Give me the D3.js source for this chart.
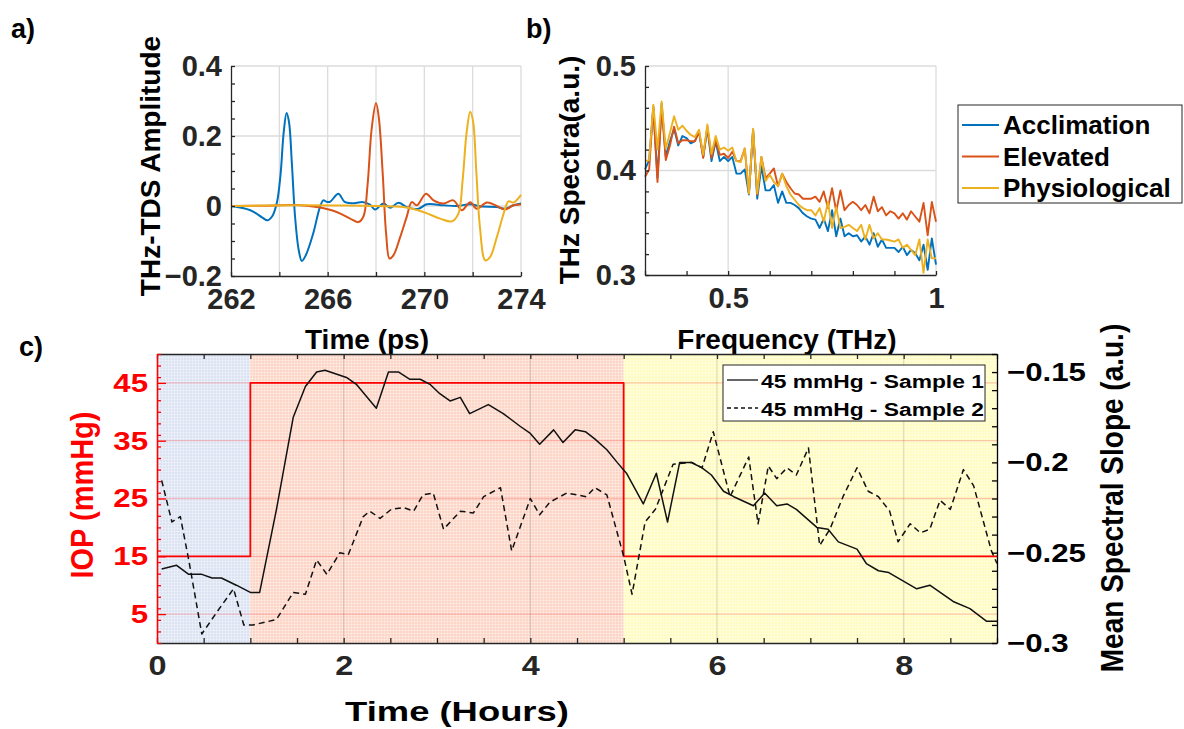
<!DOCTYPE html>
<html>
<head>
<meta charset="utf-8">
<script src="https://cdn.jsdelivr.net/npm/d3@7"></script>
<style>
  body { margin: 0; background: #fff; }
  svg text { font-family: "Liberation Sans", Arial, sans-serif; font-weight: bold; }
</style>
</head>
<body>
<div id="chart"></div>
<script>
'use strict';

// ---------- panel a : THz-TDS pulses ----------
const accTime = [262, 262.8, 263.3, 263.5, 263.7, 263.9, 264.05, 264.18, 264.30, 264.40, 264.52, 264.65, 264.80, 264.93, 265.10, 265.40, 265.68, 265.82, 265.95, 266.10, 266.44, 266.70, 267.0, 267.48, 267.75, 267.96, 268.31, 268.58, 268.93, 269.3, 269.76, 270.10, 270.79, 271.34, 271.90, 272.31, 273.00, 273.34, 273.69, 274];
const accAmp  = [0, -0.012, -0.033, -0.041, -0.030, 0.010, 0.090, 0.210, 0.266, 0.240, 0.120, -0.030, -0.125, -0.157, -0.140, -0.079, -0.003, 0.016, 0.012, 0.012, 0.035, 0.012, 0.008, 0.011, 0.004, -0.010, 0.007, -0.005, 0.009, -0.004, -0.008, 0.005, 0.002, 0, 0.005, -0.001, -0.003, -0.008, 0.002, 0.007];
const eleTime = [262, 263.5, 264.72, 265.55, 266.37, 266.93, 267.27, 267.48, 267.65, 267.82, 268.0, 268.12, 268.28, 268.42, 268.56, 268.72, 269.0, 269.27, 269.48, 269.69, 270.07, 270.38, 270.79, 271.2, 271.55, 271.9, 272.17, 272.59, 273.0, 273.34, 273.69, 274];
const eleAmp  = [0, 0.001, 0.003, -0.003, -0.017, -0.036, -0.046, -0.030, 0.060, 0.220, 0.294, 0.250, 0.090, -0.080, -0.150, -0.141, -0.089, -0.031, 0.011, 0.002, 0.035, 0.016, 0.007, 0.016, -0.012, 0.011, -0.008, 0.010, 0, -0.010, 0.002, 0.004];
const phyTime = [262, 265, 268.03, 269.13, 269.96, 270.65, 271.14, 271.41, 271.58, 271.75, 271.9, 272.02, 272.15, 272.3, 272.52, 272.72, 273.0, 273.28, 273.48, 273.69, 274];
const phyAmp  = [0, 0.002, 0, -0.003, -0.017, -0.036, -0.044, -0.022, 0.070, 0.210, 0.269, 0.240, 0.100, -0.060, -0.155, -0.146, -0.089, -0.022, 0.013, 0.010, 0.032];

const aXTicks = [262, 264, 266, 268, 270, 272, 274];
const aXLabels = ['262', '', '266', '', '270', '', '274'];
const aYTicks = [-0.2, -0.15, -0.1, -0.05, 0, 0.05, 0.1, 0.15, 0.2, 0.25, 0.3, 0.35, 0.4];
const aYLabels = ['\u22120.2', '', '', '', '0', '', '', '', '0.2', '', '', '', '0.4'];

// ---------- panel b : THz spectra ----------
const freq = [0.30, 0.31, 0.32, 0.33, 0.34, 0.35, 0.36, 0.37, 0.38, 0.39, 0.40, 0.41, 0.42, 0.43, 0.44, 0.45, 0.46, 0.47, 0.48, 0.49,
              0.50, 0.51, 0.52, 0.53, 0.54, 0.55, 0.56, 0.57, 0.58, 0.59, 0.60, 0.61, 0.62, 0.63, 0.64, 0.65, 0.66, 0.67, 0.68, 0.69,
              0.70, 0.71, 0.72, 0.73, 0.74, 0.75, 0.76, 0.77, 0.78, 0.79, 0.80, 0.81, 0.82, 0.83, 0.84, 0.85, 0.86, 0.87, 0.88, 0.89,
              0.90, 0.91, 0.92, 0.93, 0.94, 0.95, 0.96, 0.97, 0.98, 0.99, 1.00];
const specAcc = [0.401, 0.410, 0.461, 0.393, 0.464, 0.413, 0.428, 0.440, 0.424, 0.433, 0.431, 0.426, 0.428, 0.437, 0.413, 0.440, 0.409, 0.428, 0.409, 0.413,
                 0.409, 0.413, 0.397, 0.397, 0.401, 0.377, 0.439, 0.373, 0.404, 0.381, 0.381, 0.386, 0.369, 0.380, 0.369, 0.369, 0.367, 0.364, 0.359, 0.356,
                 0.354, 0.353, 0.345, 0.354, 0.342, 0.362, 0.337, 0.354, 0.337, 0.340, 0.337, 0.338, 0.332, 0.337, 0.329, 0.340, 0.327, 0.334, 0.326, 0.326,
                 0.326, 0.322, 0.327, 0.319, 0.324, 0.321, 0.314, 0.329, 0.305, 0.335, 0.310];
const specEle = [0.394, 0.401, 0.460, 0.389, 0.461, 0.410, 0.424, 0.442, 0.426, 0.429, 0.429, 0.428, 0.428, 0.437, 0.412, 0.442, 0.412, 0.429, 0.415, 0.416,
                 0.412, 0.418, 0.409, 0.409, 0.421, 0.378, 0.439, 0.377, 0.413, 0.393, 0.397, 0.402, 0.385, 0.397, 0.389, 0.383, 0.378, 0.377, 0.373, 0.373,
                 0.373, 0.375, 0.370, 0.380, 0.364, 0.383, 0.361, 0.381, 0.362, 0.367, 0.370, 0.367, 0.362, 0.367, 0.359, 0.375, 0.361, 0.365, 0.357, 0.361,
                 0.359, 0.354, 0.359, 0.353, 0.361, 0.356, 0.351, 0.369, 0.338, 0.370, 0.351];
const specPhy = [0.409, 0.410, 0.463, 0.420, 0.466, 0.421, 0.436, 0.452, 0.439, 0.443, 0.438, 0.434, 0.432, 0.439, 0.415, 0.444, 0.416, 0.433, 0.420, 0.422,
                 0.419, 0.422, 0.409, 0.408, 0.421, 0.378, 0.440, 0.378, 0.413, 0.390, 0.396, 0.389, 0.385, 0.397, 0.385, 0.377, 0.372, 0.367, 0.364, 0.362,
                 0.362, 0.357, 0.364, 0.351, 0.370, 0.345, 0.365, 0.345, 0.346, 0.348, 0.345, 0.342, 0.348, 0.334, 0.348, 0.335, 0.340, 0.334, 0.334, 0.333,
                 0.332, 0.334, 0.326, 0.329, 0.324, 0.319, 0.334, 0.302, 0.334, 0.316, 0.316];

const bXTicks = [0.3, 0.4, 0.5, 0.6, 0.7, 0.8, 0.9, 1.0];
const bXLabels = ['', '', '0.5', '', '', '', '', '1'];
const bYTicks = [0.3, 0.32, 0.34, 0.36, 0.38, 0.4, 0.42, 0.44, 0.46, 0.48, 0.5];
const bYLabels = ['0.3', '', '', '', '', '0.4', '', '', '', '', '0.5'];

const spectraNames = ['Acclimation', 'Elevated', 'Physiological'];
const spectraColors = ['#0072BD', '#D95319', '#EDB120'];

// ---------- panel c : IOP and mean spectral slope over time ----------
const phaseStart = [0, 1, 5];
const phaseEnd   = [1, 5, 9];
const phaseFill  = ['#dce4f4', '#fcd5c7', '#fefcc2'];

const iopHours = [0, 1, 1, 5, 5, 9];
const iopValue = [15, 15, 45, 45, 15, 15];

const s1Hours = [0.05, 0.21, 0.34, 0.48, 0.59, 0.69, 0.85, 1.0, 1.1, 1.28, 1.46, 1.59, 1.71, 1.8, 2.03, 2.14, 2.35, 2.48, 2.59, 2.71, 2.82, 2.93, 3.03, 3.14, 3.25, 3.35, 3.55, 3.71, 3.89, 4.0, 4.1, 4.25, 4.35, 4.48, 4.59, 4.69, 4.82, 4.93, 5.03, 5.21, 5.35, 5.47, 5.6, 5.72, 5.84, 5.94, 6.07, 6.18, 6.39, 6.51, 6.64, 6.75, 6.85, 7.07, 7.19, 7.3, 7.5, 7.6, 7.73, 7.84, 8.14, 8.28, 8.53, 8.71, 8.89, 9.0];
const s1Slope = [-0.259, -0.257, -0.262, -0.262, -0.264, -0.264, -0.268, -0.272, -0.272, -0.226, -0.175, -0.158, -0.150, -0.149, -0.153, -0.157, -0.170, -0.150, -0.150, -0.154, -0.154, -0.157, -0.162, -0.166, -0.164, -0.173, -0.168, -0.173, -0.180, -0.184, -0.190, -0.182, -0.189, -0.182, -0.183, -0.187, -0.193, -0.200, -0.206, -0.223, -0.206, -0.233, -0.200, -0.200, -0.203, -0.207, -0.216, -0.219, -0.224, -0.217, -0.224, -0.223, -0.226, -0.236, -0.237, -0.244, -0.248, -0.256, -0.260, -0.261, -0.270, -0.268, -0.277, -0.281, -0.288, -0.288];
const s2Hours = [0.05, 0.16, 0.25, 0.34, 0.48, 0.64, 0.82, 0.93, 1.03, 1.28, 1.46, 1.59, 1.71, 1.82, 1.96, 2.05, 2.21, 2.28, 2.39, 2.51, 2.64, 2.75, 2.85, 2.96, 3.07, 3.25, 3.39, 3.5, 3.68, 3.8, 4.0, 4.1, 4.21, 4.39, 4.6, 4.69, 4.82, 5.0, 5.09, 5.23, 5.34, 5.53, 5.73, 5.84, 5.96, 6.14, 6.34, 6.44, 6.55, 6.64, 6.75, 6.85, 6.98, 7.1, 7.21, 7.35, 7.5, 7.62, 7.73, 7.85, 7.94, 8.07, 8.18, 8.28, 8.39, 8.5, 8.64, 8.75, 8.94, 9.0];
const s2Slope = [-0.210, -0.233, -0.230, -0.254, -0.295, -0.283, -0.270, -0.290, -0.290, -0.287, -0.272, -0.273, -0.254, -0.262, -0.250, -0.251, -0.230, -0.227, -0.231, -0.226, -0.225, -0.227, -0.218, -0.217, -0.237, -0.227, -0.228, -0.219, -0.214, -0.249, -0.220, -0.229, -0.222, -0.217, -0.219, -0.214, -0.218, -0.252, -0.273, -0.233, -0.226, -0.201, -0.200, -0.203, -0.183, -0.219, -0.197, -0.234, -0.202, -0.209, -0.203, -0.207, -0.192, -0.246, -0.237, -0.219, -0.203, -0.216, -0.219, -0.227, -0.244, -0.234, -0.239, -0.237, -0.221, -0.226, -0.204, -0.213, -0.249, -0.256];
const sampleNames = ['45 mmHg - Sample 1', '45 mmHg - Sample 2'];

const cXTicks = [0, 0.5, 1, 1.5, 2, 2.5, 3, 3.5, 4, 4.5, 5, 5.5, 6, 6.5, 7, 7.5, 8, 8.5, 9];
const cXLabels = ['0', '', '', '', '2', '', '', '', '4', '', '', '', '6', '', '', '', '8', '', ''];
const cIopMinor = [0, 2, 4, 6, 8, 10, 12, 14, 16, 18, 20, 22, 24, 26, 28, 30, 32, 34, 36, 38, 40, 42, 44, 46, 48, 50];
const cIopTicks = [5, 15, 25, 35, 45];
const cIopLabels = ['5', '15', '25', '35', '45'];
const cSlopeTicks = [-0.3, -0.29, -0.28, -0.27, -0.26, -0.25, -0.24, -0.23, -0.22, -0.21, -0.2, -0.19, -0.18, -0.17, -0.16, -0.15, -0.14];
const cSlopeLabels = ['\u22120.3', '', '', '', '', '\u22120.25', '', '', '', '', '\u22120.2', '', '', '', '', '\u22120.15', ''];

// ---------- drawing ----------
const FONT = '"Liberation Sans", Arial, sans-serif';
const AXIS = '#262626';
const STRETCH = 1.2;   // text in panel c is a bit wider than tall
const svg = d3.select('#chart').append('svg').attr('width', 1184).attr('height', 729);
const defs = svg.append('defs');

// widen a text horizontally around its own x position
function widen(sel, s) {
  sel.attr('transform', function () {
    const x = +this.getAttribute('x') || 0;
    return `translate(${x},0) scale(${s},1) translate(${-x},0)`;
  });
}

// inward-tick axis; empty label strings give unlabeled ticks
function drawAxis(g, axisFn, scale, ticks, labels, size, pad, color, fontSize, stretch) {
  const ax = axisFn(scale).tickValues(ticks).tickSizeInner(-size).tickSizeOuter(0).tickPadding(pad)
    .tickFormat((d, i) => labels[i]);
  g.call(ax)
    .attr('font-family', FONT).attr('font-size', fontSize || 29).attr('font-weight', 'bold');
  g.select('.domain').attr('stroke', color).attr('stroke-width', 1.3);
  g.selectAll('.tick line').attr('stroke', color).attr('stroke-width', 1.3);
  g.selectAll('.tick text').attr('fill', color);
  if (stretch) widen(g.selectAll('.tick text'), stretch);
  return g;
}

function drawLine(g, xs, ys, x, y, color, width, dash, curve) {
  const gen = d3.line().x(d => x(d[0])).y(d => y(d[1]));
  if (curve) gen.curve(curve);
  g.append('path')
    .datum(xs.map((v, i) => [v, ys[i]]))
    .attr('d', gen)
    .attr('fill', 'none')
    .attr('stroke', color)
    .attr('stroke-width', width)
    .attr('stroke-dasharray', dash || null)
    .attr('stroke-linejoin', 'round');
}

function rotLabel(x, y, txt, color, size, stretch) {
  svg.append('text')
    .attr('transform', `translate(${x},${y}) rotate(-90) scale(1,${stretch || 1})`)
    .attr('text-anchor', 'middle')
    .attr('font-size', size || 28)
    .attr('fill', color || '#000')
    .text(txt);
}

function label(x, y, txt, size, anchor, stretch) {
  const t = svg.append('text').attr('x', x).attr('y', y)
    .attr('text-anchor', anchor || 'middle')
    .attr('font-size', size || 28)
    .text(txt);
  if (stretch) widen(t, stretch);
}

// ----- panel a -----
const xA = d3.scaleLinear().domain([262, 274]).range([231, 521]);
const yA = d3.scaleLinear().domain([-0.2, 0.4]).range([276, 66]);
const gA = svg.append('g');

gA.selectAll('.vg').data([264, 266, 268, 270, 272, 274]).join('line')
  .attr('x1', d => xA(d)).attr('x2', d => xA(d)).attr('y1', 66).attr('y2', 276)
  .attr('stroke', '#dcdcdc').attr('stroke-width', 1.3);
gA.selectAll('.hg').data([0, 0.2, 0.4]).join('line')
  .attr('x1', 231).attr('x2', 521).attr('y1', d => yA(d)).attr('y2', d => yA(d))
  .attr('stroke', '#dcdcdc').attr('stroke-width', 1.3);

const smooth = d3.curveCatmullRom.alpha(0.5);
drawLine(gA, accTime, accAmp, xA, yA, spectraColors[0], 2, null, smooth);
drawLine(gA, eleTime, eleAmp, xA, yA, spectraColors[1], 2, null, smooth);
drawLine(gA, phyTime, phyAmp, xA, yA, spectraColors[2], 2, null, smooth);

drawAxis(svg.append('g').attr('transform', 'translate(0,276)'), d3.axisBottom, xA, aXTicks, aXLabels, 4, 12, AXIS);
drawAxis(svg.append('g').attr('transform', 'translate(231,0)'), d3.axisLeft, yA, aYTicks, aYLabels, 4, 9, AXIS);

label(367, 349, 'Time (ps)');
rotLabel(160, 166, 'THz-TDS Amplitude');
label(11, 38, 'a)', 27, 'start');

// ----- panel b -----
const xB = d3.scaleLinear().domain([0.3, 1]).range([645, 936]);
const yB = d3.scaleLinear().domain([0.3, 0.5]).range([275, 66]);
const gB = svg.append('g');

gB.selectAll('.vg').data([0.5, 1]).join('line')
  .attr('x1', d => xB(d)).attr('x2', d => xB(d)).attr('y1', 66).attr('y2', 275)
  .attr('stroke', '#dcdcdc').attr('stroke-width', 1.3);
gB.selectAll('.hg').data([0.4, 0.5]).join('line')
  .attr('x1', 645).attr('x2', 936).attr('y1', d => yB(d)).attr('y2', d => yB(d))
  .attr('stroke', '#dcdcdc').attr('stroke-width', 1.3);

[specAcc, specEle, specPhy].forEach((s, i) => {
  drawLine(gB, freq, s, xB, yB, spectraColors[i], 1.9);
});

drawAxis(svg.append('g').attr('transform', 'translate(0,275)'), d3.axisBottom, xB, bXTicks, bXLabels, 4, 12, AXIS);
drawAxis(svg.append('g').attr('transform', 'translate(645,0)'), d3.axisLeft, yB, bYTicks, bYLabels, 4, 9, AXIS);

label(787, 349, 'Frequency (THz)');
rotLabel(579, 170, 'THz Spectra(a.u.)');
label(526, 38, 'b)', 27, 'start');

// legend for a/b
const legAB = svg.append('g').attr('transform', 'translate(958,105)');
legAB.append('rect').attr('width', 224).attr('height', 98)
  .attr('fill', '#fff').attr('stroke', AXIS).attr('stroke-width', 1);
spectraNames.forEach((n, i) => {
  const yy = 20 + i * 31.5;
  legAB.append('line').attr('x1', 4).attr('x2', 41).attr('y1', yy).attr('y2', yy)
    .attr('stroke', spectraColors[i]).attr('stroke-width', 1.8);
  legAB.append('text').attr('x', 45).attr('y', yy + 9).attr('font-size', 26).text(n);
});

// ----- panel c -----
const xC = d3.scaleLinear().domain([0, 9]).range([157, 997]);
const yIop = d3.scaleLinear().domain([0, 50]).range([643, 354]);
const ySlope = d3.scaleLinear().domain([-0.3, -0.14]).range([643, 354]);
const gC = svg.append('g');

phaseFill.forEach((c, i) => {
  const p = defs.append('pattern').attr('id', 'ph' + i)
    .attr('width', 3).attr('height', 3).attr('patternUnits', 'userSpaceOnUse');
  p.append('rect').attr('width', 3).attr('height', 3).attr('fill', c);
  p.append('path').attr('d', 'M0,0.5H3M0.5,0V3')
    .attr('stroke', '#fff').attr('stroke-opacity', 0.3).attr('stroke-width', 1);
});
gC.selectAll('.phase').data(phaseStart).join('rect')
  .attr('x', d => xC(d))
  .attr('width', (d, i) => xC(phaseEnd[i]) - xC(d))
  .attr('y', 354).attr('height', 643 - 354)
  .attr('fill', (d, i) => `url(#ph${i})`);

gC.selectAll('.vg').data([2, 4, 6, 8]).join('line')
  .attr('x1', d => xC(d)).attr('x2', d => xC(d)).attr('y1', 354).attr('y2', 643)
  .attr('stroke', '#000').attr('stroke-opacity', 0.12).attr('stroke-width', 1.3);
gC.selectAll('.hg').data(cIopTicks).join('line')
  .attr('x1', 157).attr('x2', 997).attr('y1', d => yIop(d)).attr('y2', d => yIop(d))
  .attr('stroke', '#ff3b3b').attr('stroke-opacity', 0.28).attr('stroke-width', 1.3);

drawLine(gC, iopHours, iopValue, xC, yIop, '#ff0000', 1.8);
drawLine(gC, s1Hours, s1Slope, xC, ySlope, '#111', 1.5);
drawLine(gC, s2Hours, s2Slope, xC, ySlope, '#111', 1.5, '6,4');

drawAxis(svg.append('g').attr('transform', 'translate(0,643)'), d3.axisBottom, xC, cXTicks, cXLabels, 5, 13, AXIS, 27, STRETCH);
drawAxis(svg.append('g').attr('transform', 'translate(0,354)'), d3.axisTop, xC, cXTicks, cXTicks.map(() => ''), 5, 0, AXIS);
drawAxis(svg.append('g').attr('transform', 'translate(157,0)'), d3.axisLeft, yIop, cIopMinor, cIopMinor.map(() => ''), 4, 9, '#ff0000');
drawAxis(svg.append('g').attr('transform', 'translate(157,0)'), d3.axisLeft, yIop, cIopTicks, cIopLabels, 9, 9, '#ff0000', 26, STRETCH);
drawAxis(svg.append('g').attr('transform', 'translate(997,0)'), d3.axisRight, ySlope, cSlopeTicks, cSlopeLabels, 5, 10, '#000', 26, STRETCH);

// legend for c
const legC = svg.append('g').attr('transform', 'translate(723,365)');
legC.append('rect').attr('width', 262).attr('height', 56)
  .attr('fill', '#fff').attr('stroke', AXIS).attr('stroke-width', 1);
sampleNames.forEach((n, i) => {
  const yy = 15 + i * 28;
  legC.append('line').attr('x1', 4).attr('x2', 35).attr('y1', yy).attr('y2', yy)
    .attr('stroke', '#111').attr('stroke-width', 1.3).attr('stroke-dasharray', i ? '4,3' : null);
  const t = legC.append('text').attr('x', 38).attr('y', yy + 8).attr('font-size', 19).text(n);
  widen(t, STRETCH);
});

label(457, 721, 'Time (Hours)', 28, 'middle', 1.3);
rotLabel(93, 495, 'IOP (mmHg)', '#ff0000', 29, 1.1);
rotLabel(1123, 498, 'Mean Spectral Slope (a.u.)', '#000', 28, 1.1);
label(19, 356, 'c)', 27, 'start');
</script>
</body>
</html>
